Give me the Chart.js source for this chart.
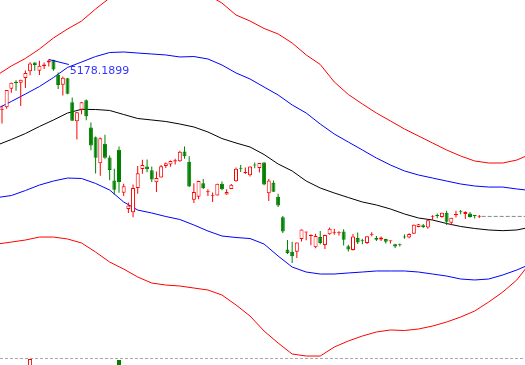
<!DOCTYPE html>
<html>
<head>
<meta charset="utf-8">
<script src="https://cdn.jsdelivr.net/npm/chart.js@4.4.1/dist/chart.umd.min.js"></script>
<style>
  html, body { margin: 0; padding: 0; background: #fff; }
  canvas { display: block; }
</style>
</head>
<body>
<canvas id="priceChart" width="525" height="359"></canvas>
<canvas id="volumeChart" width="525" height="6"></canvas>
<script>
// daily candles, one per trading day (x = day index)
const open = [4603,4633,4844,4924,4912,4966,5045,5145,5049,5101,
  5143,5174,5004,4890,4963,4689,4471,4604,4711,4399,
  4289,3991,4214,4058,3793,4146,3653,3467,3432,3707,
  3925,3953,3910,3773,3829,3959,3978,4011,4015,4125,
  4008,3574,3609,3763,3660,3615,3621,3756,3633,3697,
  3786,3930,3880,3853,3976,3936,3999,3648,3767,3609,
  3373,3004,2980,2978,3125,3200,3158,3030,3149,3055,
  3180,3190,3190,3210,3042,2998,3135,3100,3078,3174,
  3136,3118,3124,3098,3064,3055,3154,3141,3184,3262,
  3283,3255,3380,3393,3375,3424,3311,3396,3443,3412,
  3417,3390,3380];
const high = [4652,4829,4911,4942,4947,5051,5146,5147,5164,5143,
  5178.1899,5176,5029,4985,4967,4744,4577,4691,4721,4457,
  4297,4287,4318,4081,3927,4184,3757,3541,3748,3959,
  4030,4035,3955,3898,3971,4001,4023,4043,4133,4184,
  4071,3763,3790,3810,3694,3658,3757,3783,3693,3755,
  3943,3970,3944,3957,4000,3994,4006,3811,3793,3641,
  3389,3113,3092,3085,3233,3207,3180,3186,3217,3174,
  3256,3243,3214,3237,3059,3183,3200,3127,3157,3202,
  3159,3152,3127,3104,3069,3073,3175,3190,3291,3297,
  3296,3338,3395,3417,3425,3448,3369,3447,3457,3441,
  3434,3397,3398];
const low = [4445,4615,4797,4822,4647,4853,4997,5049,5001,5070,
  5099,5048,4842,4767,4780,4476,4264,4552,4483,4139,
  3875,3848,4043,3796,3629,3653,3617,3421,3374,3643,
  3870,3887,3778,3663,3828,3937,3951,3976,4008,4044,
  3720,3537,3579,3697,3618,3549,3621,3682,3631,3697,
  3781,3890,3869,3840,3935,3885,3741,3558,3661,3491,
  3192,2953,2851,2906,3096,3109,3054,3019,3066,3011,
  3173,3174,3165,3049,2983,2993,3067,3066,3068,3156,
  3102,3101,3073,3073,3022,3039,3127,3134,3184,3260,
  3250,3242,3343,3363,3368,3284,3283,3372,3409,3353,
  3371,3359,3364];
const close = [4612,4829,4911,4910,4947,5023,5132,5114,5106,5122,
  5166,5063,4887,4968,4785,4478,4576,4690,4528,4193,
  4053,4277,4054,3913,3687,3776,3727,3507,3709,3878,
  3970,3924,3806,3823,3957,3992,4018,4026,4124,4071,
  3726,3663,3789,3706,3664,3623,3757,3695,3662,3744,
  3928,3928,3886,3955,3965,3994,3748,3794,3664,3508,
  3210,2965,2927,3084,3232,3206,3167,3160,3080,3170,
  3243,3198,3200,3115,3005,3152,3086,3098,3157,3186,
  3116,3143,3092,3101,3038,3053,3143,3183,3288,3293,
  3262,3338,3391,3387,3425,3321,3369,3412,3430,3434,
  3375,3387,3383];

// band lines, read at these day positions
const bandDays = [-1,2,5,8,11,14,17,20,23,26,29,32,35,38,41,44,47,50,53,56,
  59,62,65,68,71,74,77,80,83,86,89,92,95,98,101,104,107,110,112];
const midBand = [4200,4263,4331,4412,4486,4566,4608,4606,4595,4549,4503,4486,4469,4440,4406,4349,4274,4223,4177,4091,
  3983,3903,3788,3708,3651,3599,3548,3514,3468,3411,3365,3342,3302,3268,3245,3228,3220,3228,3250];
const upperBlue = [4617,4698,4783,4869,4972,5087,5149,5212,5258,5264,5252,5241,5230,5207,5212,5184,5115,5024,4955,4863,
  4772,4658,4566,4440,4326,4234,4143,4051,3971,3903,3857,3822,3788,3754,3731,3719,3719,3697,3685];
const lowerBlue = [3599,3622,3679,3742,3788,3822,3817,3760,3685,3548,3456,3422,3382,3348,3285,3216,3159,3142,3130,3067,
  2930,2804,2747,2724,2724,2736,2747,2759,2759,2759,2747,2724,2701,2667,2656,2667,2713,2770,2816];
const upperRed = [5001,5104,5190,5298,5424,5527,5618,5756,5882,5973,6030,6065,6053,6019,5973,5916,5824,5687,5618,5533,
  5470,5367,5230,5121,4921,4778,4669,4566,4475,4383,4303,4223,4143,4074,4017,3994,3994,4028,4074];
const lowerRed = [3067,3090,3113,3147,3147,3125,3079,2976,2861,2781,2690,2621,2598,2587,2564,2541,2484,2370,2244,2072,
  1935,1809,1786,1786,1889,1958,2015,2061,2084,2078,2095,2129,2175,2232,2301,2404,2518,2656,2793];

// only the tallest volume bars reach into view
const volumeDays = [6, 25];
const volumeValues = [1300, 1275];

const RED = '#ff0000', GREEN = '#008000';
const xMin = -0.427, xMax = 111.75;
const priceMin = 1752, priceMax = 5858.7;

const isUp = i => close[i] >= open[i];

function band(values, color) {
  return {
    type: 'line',
    data: bandDays.map((d, k) => ({x: d, y: values[k]})),
    borderColor: color,
    borderWidth: 1,
    pointRadius: 0,
    tension: 0,
    fill: false,
    order: 3
  };
}

const overlay = {
  id: 'overlay',
  afterDatasetsDraw(chart) {
    const {ctx, chartArea, scales: {x, y}} = chart;
    const top = high.indexOf(Math.max(...high));
    const px = x.getPixelForValue(top);
    const py = y.getPixelForValue(high[top]);
    ctx.save();
    ctx.strokeStyle = '#0000ff';
    ctx.lineWidth = 1;
    ctx.beginPath();
    ctx.moveTo(px, py);
    ctx.lineTo(px + 20, py + 5);
    ctx.stroke();
    ctx.fillStyle = '#3535ff';
    ctx.font = '11px "DejaVu Sans"';
    ctx.textBaseline = 'middle';
    ctx.fillText(high[top].toFixed(4), px + 21, py + 12);
    // pane separator
    ctx.strokeStyle = '#a8a8a8';
    ctx.setLineDash([3, 2]);
    ctx.beginPath();
    ctx.moveTo(chartArea.left, chartArea.bottom - 0.5);
    ctx.lineTo(chartArea.right, chartArea.bottom - 0.5);
    ctx.stroke();
    ctx.restore();
  }
};

const last = close.length - 1;

new Chart(document.getElementById('priceChart'), {
  type: 'bar',
  data: {
    datasets: [
      {
        data: open.map((o, i) => ({x: i, y: [o, close[i]]})),
        backgroundColor: open.map((o, i) => isUp(i) ? '#ffffff' : GREEN),
        borderColor: open.map((o, i) => isUp(i) ? RED : GREEN),
        borderWidth: 1,
        borderSkipped: false,
        barThickness: 4,
        minBarLength: 1,
        inflateAmount: 0,
        grouped: false,
        order: 0
      },
      {
        data: low.map((l, i) => ({x: i, y: [l, high[i]]})),
        backgroundColor: low.map((l, i) => isUp(i) ? RED : GREEN),
        borderWidth: 0,
        barThickness: 1,
        inflateAmount: 0,
        grouped: false,
        order: 1
      },
      {
        type: 'line',
        data: [{x: last + 0.5, y: close[last]}, {x: xMax, y: close[last]}],
        borderColor: '#888888',
        borderWidth: 1,
        borderDash: [4, 2],
        pointRadius: 0,
        order: 2
      },
      band(upperRed, RED),
      band(lowerRed, RED),
      band(upperBlue, '#0000ff'),
      band(lowerBlue, '#0000ff'),
      band(midBand, '#000000')
    ]
  },
  options: {
    responsive: false,
    animation: false,
    devicePixelRatio: 1,
    events: [],
    layout: {padding: 0},
    plugins: {legend: {display: false}, tooltip: {enabled: false}},
    scales: {
      x: {type: 'linear', display: false, min: xMin, max: xMax, offset: false},
      y: {display: false, min: priceMin, max: priceMax}
    }
  },
  plugins: [overlay]
});

new Chart(document.getElementById('volumeChart'), {
  type: 'bar',
  data: {
    datasets: [{
      data: volumeDays.map((d, k) => ({x: d, y: volumeValues[k]})),
      backgroundColor: volumeDays.map(d => isUp(d) ? '#ffffff' : GREEN),
      borderColor: volumeDays.map(d => isUp(d) ? RED : GREEN),
      borderWidth: 1,
      borderSkipped: false,
      barThickness: 4,
      inflateAmount: 0,
      grouped: false
    }]
  },
  options: {
    responsive: false,
    animation: false,
    devicePixelRatio: 1,
    events: [],
    layout: {padding: 0},
    plugins: {legend: {display: false}, tooltip: {enabled: false}},
    scales: {
      x: {type: 'linear', display: false, min: xMin, max: xMax, offset: false},
      y: {display: false, min: 1150, max: 1300}
    }
  }
});
</script>
</body>
</html>
